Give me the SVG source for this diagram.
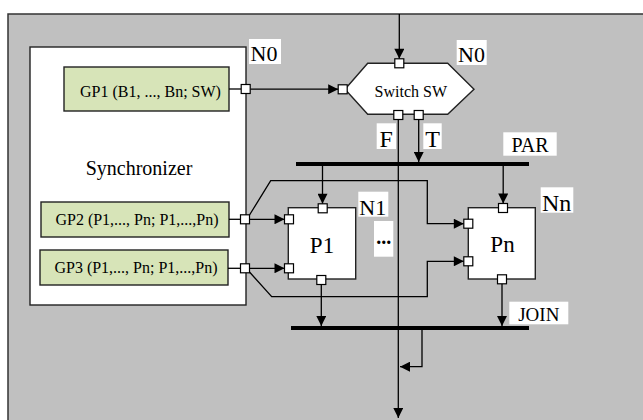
<svg xmlns="http://www.w3.org/2000/svg" width="643" height="420" viewBox="0 0 643 420">
<defs>
<marker id="arr" viewBox="0 0 10 10" refX="10" refY="5" markerWidth="11" markerHeight="10" markerUnits="userSpaceOnUse" orient="auto">
<path d="M0,0 L10,5 L0,10 z" fill="#000"/>
</marker>
</defs>
<style>
.t{font-family:"Liberation Serif","Times New Roman",serif;fill:#000}
.ln{fill:none;stroke:#000;stroke-width:1.3}
.ar{marker-end:url(#arr)}
.port{fill:#fff;stroke:#000;stroke-width:1.2}
.box{fill:#fff;stroke:#222;stroke-width:1.4}
.gp{fill:#d7e4b8;stroke:#222;stroke-width:1.4}
.lbl{fill:#fff}
.bar{fill:#000}
</style>
<rect x="8" y="14" width="640" height="412" fill="#c0c0c0" stroke="#333" stroke-width="1.5"/>

<g id="synchronizer">
<rect class="box" x="30" y="47" width="216" height="258"/>
<text class="t" x="139" y="175" font-size="20" text-anchor="middle">Synchronizer</text>
</g>
<g id="gp1">
<rect class="gp" x="64" y="67" width="165" height="44"/>
<text class="t" x="150.5" y="96.5" font-size="16" text-anchor="middle">GP1 (B1, ..., Bn; SW)</text>
</g>
<g id="gp2">
<rect class="gp" x="41" y="202" width="188" height="35"/>
<text class="t" x="137" y="225" font-size="16" text-anchor="middle">GP2 (P1,..., Pn; P1,...,Pn)</text>
</g>
<g id="gp3">
<rect class="gp" x="40" y="250" width="188" height="35"/>
<text class="t" x="136" y="273" font-size="16" text-anchor="middle">GP3 (P1,..., Pn; P1,...,Pn)</text>
</g>
<g id="switch">
<polygon class="box" points="345,89.3 367.7,63.3 447.7,63.3 474,89.3 447.7,114.3 367.7,114.3"/>
<text class="t" x="410.8" y="96.5" font-size="16" text-anchor="middle">Switch SW</text>
</g>
<g id="par">
<rect class="bar" x="296" y="162" width="233" height="4"/>
</g>
<g id="join">
<rect class="bar" x="291" y="326" width="238" height="4"/>
</g>
<g id="p1">
<rect class="box" x="288.3" y="207.7" width="67.4" height="71.3"/>
<text class="t" x="322" y="253.3" font-size="23" text-anchor="middle">P1</text>
</g>
<g id="pn">
<rect class="box" x="468.3" y="207.7" width="67" height="71.3"/>
<text class="t" x="502.5" y="251.5" font-size="23" text-anchor="middle">Pn</text>
</g>

<g id="connectors">
<path class="ln ar" d="M399.3,14 V58.8"/>
<path class="ln" d="M229,89 H241.2"/>
<path class="ln ar" d="M250.2,89.2 H338.2"/>
<path class="ln ar" d="M418.7,119.5 V162"/>
<path class="ln ar" d="M398.3,119.5 V418"/>
<path class="ln ar" d="M322.5,166 V203.8"/>
<path class="ln ar" d="M503.2,166 V203.5"/>
<path class="ln" d="M229,219.3 H240.5"/>
<path class="ln ar" d="M249.5,219.3 H284.5"/>
<path class="ln ar" d="M249.5,215 L270.7,180.7 H427.3 V223.7 H463.8"/>
<path class="ln" d="M228,268.3 H240.5"/>
<path class="ln ar" d="M249.5,268.3 H284.5"/>
<path class="ln ar" d="M249.5,272 L271.7,296.7 H427.3 V261.3 H463.8"/>
<path class="ln ar" d="M321.3,284.5 V326"/>
<path class="ln ar" d="M502,283.8 V326"/>
<path class="ln ar" d="M422,330 V366.7 H400"/>
</g>

<g id="ports">
<rect class="port" x="241.2" y="84.5" width="9" height="9"/>
<rect class="port" x="338.2" y="84.8" width="9" height="9"/>
<rect class="port" x="394.8" y="58.8" width="9" height="9"/>
<rect class="port" x="393.8" y="110.5" width="9" height="9"/>
<rect class="port" x="414.2" y="110.5" width="9" height="9"/>
<rect class="port" x="240.5" y="214.8" width="9" height="9"/>
<rect class="port" x="240.5" y="263.8" width="9" height="9"/>
<rect class="port" x="284.5" y="214.8" width="9" height="9"/>
<rect class="port" x="284.5" y="263.8" width="9" height="9"/>
<rect class="port" x="318.2" y="203.8" width="9" height="9"/>
<rect class="port" x="316.8" y="275.5" width="9" height="9"/>
<rect class="port" x="498.5" y="203.5" width="9" height="9"/>
<rect class="port" x="463.8" y="219.2" width="9" height="9"/>
<rect class="port" x="463.8" y="256.8" width="9" height="9"/>
<rect class="port" x="497.5" y="274.8" width="9" height="9"/>
</g>

<g id="labels">
<rect class="lbl" x="249" y="39" width="32" height="25"/>
<text class="t" x="250.5" y="61" font-size="22">N0</text>
<rect class="lbl" x="456.7" y="40" width="30" height="25"/>
<text class="t" x="458" y="61.5" font-size="22">N0</text>
<rect class="lbl" x="376.7" y="123.3" width="19.3" height="25.7"/>
<text class="t" x="386.3" y="146.7" font-size="24" text-anchor="middle">F</text>
<rect class="lbl" x="423.3" y="123.3" width="18.4" height="25.7"/>
<text class="t" x="432.5" y="146.7" font-size="24" text-anchor="middle">T</text>
<rect class="lbl" x="503.3" y="132.3" width="53.4" height="23.4"/>
<text class="t" x="530" y="151.7" font-size="20" text-anchor="middle">PAR</text>
<rect class="lbl" x="358.3" y="191.7" width="30" height="25"/>
<text class="t" x="359.3" y="214.5" font-size="22">N1</text>
<rect class="lbl" x="374" y="221" width="19.3" height="35.7"/>
<text class="t" x="383.7" y="244" font-size="20" font-weight="bold" text-anchor="middle">...</text>
<rect class="lbl" x="540.7" y="187.3" width="32.6" height="25.4"/>
<text class="t" x="542" y="210.7" font-size="24">Nn</text>
<rect class="lbl" x="509.3" y="301.7" width="59" height="22.6"/>
<text class="t" x="538.8" y="320.7" font-size="19" text-anchor="middle">JOIN</text>
</g>
</svg>
